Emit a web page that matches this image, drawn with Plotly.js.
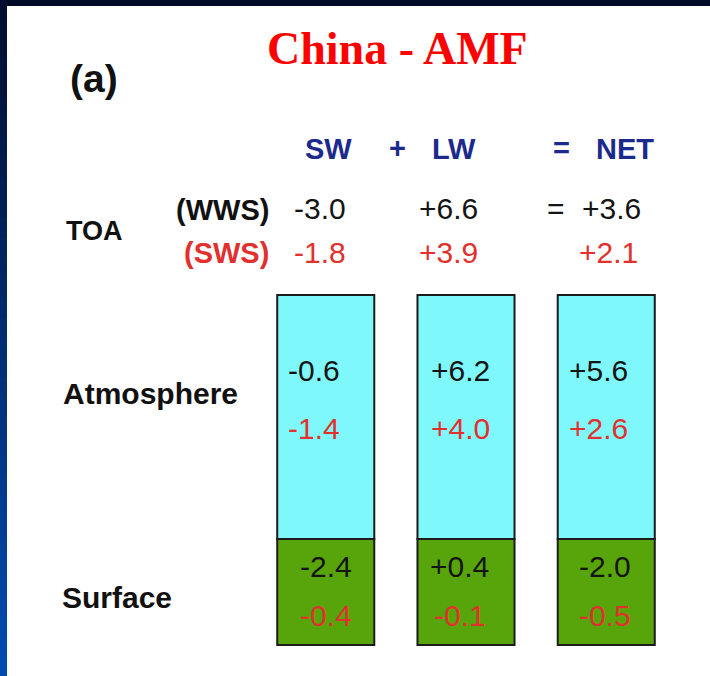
<!DOCTYPE html>
<html>
<head>
<meta charset="utf-8">
<script src="https://cdn.plot.ly/plotly-3.0.1.min.js"></script>
<style>html,body{margin:0;padding:0;background:#fff;}#chart{width:710px;height:676px;}</style>
</head>
<body>
<div id="chart"></div>
<script>
// ---- data ----
const components = ["SW", "LW", "NET"];
const operators = ["+", "="];
const layers = ["Atmosphere", "Surface"];
const scenarios = ["(WWS)", "(SWS)"];
const toaWWS = [-3.0, 6.6, 3.6];
const toaSWS = [-1.8, 3.9, 2.1];
const atmWWS = [-0.6, 6.2, 5.6];
const atmSWS = [-1.4, 4.0, 2.6];
const sfcWWS = [-2.4, 0.4, -2.0];
const sfcSWS = [-0.4, -0.1, -0.5];

// ---- layout constants (pixels) ----
const W = 710, H = 676;
const catPx = [325.75, 466, 606.25];
const BLACK = "#141414", RED = "#e0312e", NAVY = "#1b2a8c";
const SANS = "Liberation Sans, Arial, sans-serif";
const NUM = 30;
const fmt = v => (v > 0 ? "+" : v < 0 ? "-" : "") + Math.abs(v).toFixed(1);

const ann = [];
function txtPx(text, px, py, size, color, bold, family) {
  ann.push({xref: "paper", yref: "paper", x: px / W, y: 1 - py / H,
    xanchor: "center", yanchor: "middle", showarrow: false,
    text: bold ? "<b>" + text + "</b>" : text,
    font: {family: family || SANS, size: size, color: color}});
}
function txtCat(text, i, px, py, size, color) {
  ann.push({xref: "x", yref: "paper", x: components[i], xshift: px - catPx[i], y: 1 - py / H,
    xanchor: "center", yanchor: "middle", showarrow: false, text: text,
    font: {family: SANS, size: size, color: color}});
}

// title & panel label
txtPx("China - AMF", 397, 49, 46, "#ff0000", true, "Liberation Serif, Times New Roman, serif");
txtPx("(a)", 94, 79, 39, "#111", true);

// headers
const headPx = [329, 454, 625];
components.forEach((c, i) => txtCat("<b>" + c + "</b>", i, headPx[i], 149, 29, NAVY));
txtPx(operators[0], 397, 148, 29, NAVY, true);
txtPx(operators[1], 561, 148, 29, NAVY, true);

// row labels
txtPx("TOA", 95, 231, 27, "#111", true);
txtPx(scenarios[0], 222, 210, 29, "#111", true);
txtPx(scenarios[1], 226, 253, 29, RED, true);
txtPx(layers[0], 150, 393, 30, "#111", true);
txtPx(layers[1], 117, 597, 30, "#111", true);

// TOA values
const toaPx1 = [320, 449, 612], toaPx2 = [320, 449, 609];
toaWWS.forEach((v, i) => txtCat(fmt(v), i, toaPx1[i], 208, NUM, BLACK));
toaSWS.forEach((v, i) => txtCat(fmt(v), i, toaPx2[i], 253, NUM, RED));
txtPx("=", 556, 208, NUM, BLACK, false);

// Atmosphere values
const atmPx = [314, 461, 599];
atmWWS.forEach((v, i) => txtCat(fmt(v), i, atmPx[i], 370, NUM, BLACK));
atmSWS.forEach((v, i) => txtCat(fmt(v), i, atmPx[i], 428, NUM, RED));

// Surface values
const sfcPx = [326, 460, 605.5];
sfcWWS.forEach((v, i) => txtCat(fmt(v), i, sfcPx[i], 566, NUM, BLACK));
sfcSWS.forEach((v, i) => txtCat(fmt(v), i, sfcPx[i], 615, NUM, RED));

// frame: dark border with gradient left stripe, white panel
const shapes = [];
shapes.push({type: "rect", xref: "paper", yref: "paper", x0: 7 / W, x1: 1, y0: 0, y1: 1 - 6 / H,
  fillcolor: "#ffffff", line: {width: 0}, layer: "below"});
const N = 34;
const c0 = [0, 12, 44], c1 = [0, 76, 178];
for (let k = 0; k < N; k++) {
  const t = (k + 0.5) / N;
  const c = c0.map((a, j) => Math.round(a + (c1[j] - a) * t));
  shapes.push({type: "rect", xref: "paper", yref: "paper", x0: 0, x1: 7 / W,
    y0: 1 - (k + 1) / N, y1: 1 - k / N + 0.001,
    fillcolor: `rgb(${c[0]},${c[1]},${c[2]})`, line: {width: 0}, layer: "below"});
}

// bars: Atmosphere (cyan) above Surface (green) — box geometry in pixel units
const sfcBase = H - 645, sfcTop = H - 539, atmTop = H - 295;
const traces = [
  {type: "bar", name: layers[1], x: components, y: components.map(() => sfcTop - sfcBase),
   base: sfcBase, width: 0.692, marker: {color: "#57a50b", line: {color: "#1c1c1c", width: 2}},
   hoverinfo: "skip"},
  {type: "bar", name: layers[0], x: components, y: components.map(() => atmTop - sfcTop),
   base: sfcTop, width: 0.692, marker: {color: "#7ff8fb", line: {color: "#1c1c1c", width: 2}},
   hoverinfo: "skip"}
];

const layout = {
  width: W, height: H, margin: {l: 0, r: 0, t: 0, b: 0},
  paper_bgcolor: "#000a26", plot_bgcolor: "rgba(0,0,0,0)",
  showlegend: false, barmode: "overlay",
  xaxis: {type: "category", range: [-2.3226, 2.7398], visible: false, fixedrange: true},
  yaxis: {range: [0, H], visible: false, fixedrange: true},
  shapes: shapes, annotations: ann
};
Plotly.newPlot("chart", traces, layout, {displayModeBar: false, staticPlot: true});
</script>
</body>
</html>
